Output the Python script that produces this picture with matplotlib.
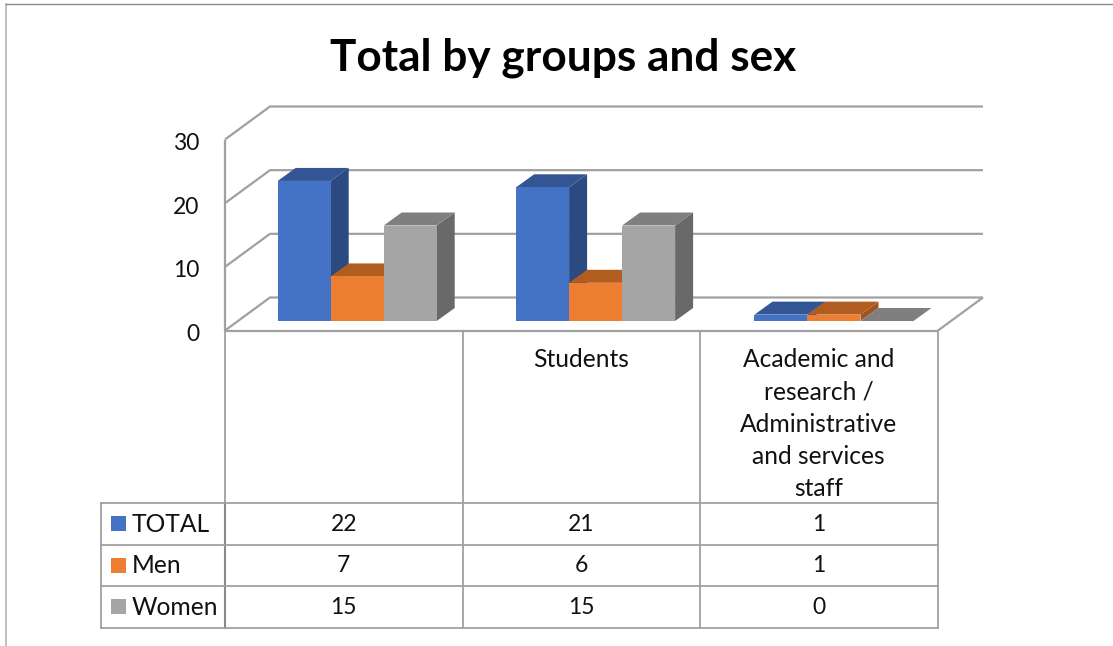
import matplotlib
matplotlib.use("Agg")
import matplotlib.pyplot as plt
from matplotlib.patches import Polygon, Rectangle
from matplotlib.transforms import ScaledTranslation

plt.rcParams['font.family'] = ['Lato', 'DejaVu Sans']

title = "Total by groups and sex"
categories = ["", "Students",
              "Academic and\nresearch /\nAdministrative\nand services\nstaff"]
series_names = ["TOTAL", "Men", "Women"]
total = [22, 21, 1]
men = [7, 6, 1]
women = [15, 15, 0]
y_ticks = [0, 10, 20, 30]

front_colors = ["#4472C4", "#ED7D31", "#A5A5A5"]
top_colors = ["#335593", "#B25D20", "#7F7F7F"]
side_colors = ["#2A4A80", "#A05420", "#696969"]
GRID = "#A0A0A0"
TABLE = "#A0A0A0"

W, H = 1113, 646
fig = plt.figure(figsize=(W / 100, H / 100), dpi=100, facecolor="white")

# overlay in pixel coordinates: frame, table, texts
bg = fig.add_axes([0, 0, 1, 1])
bg.set_xlim(0, W)
bg.set_ylim(H, 0)
bg.axis("off")

# plot axes: x in category units, y in value units
X0, X1, Y0, Y30 = 225, 938, 330.5, 139.5
ax = fig.add_axes([X0 / W, 1 - Y0 / H, (X1 - X0) / W, (Y0 - Y30) / H])
ax.set_xlim(0, 3)
ax.set_ylim(0, 30)
ax.patch.set_alpha(0)
for s in ax.spines.values():
    s.set_visible(False)
ax.set_xticks([])
ax.set_yticks(y_ticks)
ax.tick_params(axis="y", length=0, pad=18.5, labelsize=16.5, labelcolor="#111111")
shift = ScaledTranslation(0, -2 / 100, fig.dpi_scale_trans)
for lab in ax.get_yticklabels():
    lab.set_transform(lab.get_transform() + shift)

ux = (X1 - X0) / 3
uy = (Y0 - Y30) / 30
WALL_DX, WALL_DY = 45 / ux, 33 / uy
BAR_DX, BAR_DY = 18 / ux, 13 / uy
BAR_W = 53 / ux
BAR_OFF = 52.7 / ux
GROUP = 238.4 / ux
BASE = 9.5 / uy


def line(xs, ys, lw=1.6, color=GRID, z=1):
    ax.plot(xs, ys, color=color, lw=lw, clip_on=False, zorder=z,
            solid_capstyle="butt", solid_joinstyle="miter")


# wall and floor
for v in y_ticks:
    line([0, WALL_DX, 3 + WALL_DX], [v, v + WALL_DY, v + WALL_DY])
line([0, 0], [0, 30])
line([0, 3], [0, 0])
line([3, 3 + WALL_DX], [0, WALL_DY])

# bars
values = [total, men, women]
z = 2
for c in range(len(categories)):
    for s, vals in enumerate(values):
        v = vals[c]
        x = c * GROUP + BAR_OFF + s * BAR_W
        b = BASE
        t = BASE + v
        ax.add_patch(Polygon([(x + BAR_W, b), (x + BAR_W + BAR_DX, b + BAR_DY),
                              (x + BAR_W + BAR_DX, t + BAR_DY), (x + BAR_W, t)],
                             fc=side_colors[s], ec="none", clip_on=False, zorder=z))
        ax.add_patch(Polygon([(x, t), (x + BAR_W, t), (x + BAR_W + BAR_DX, t + BAR_DY),
                              (x + BAR_DX, t + BAR_DY)],
                             fc=top_colors[s], ec="none", clip_on=False, zorder=z + 1))
        ax.add_patch(Rectangle((x, b), BAR_W, v, fc=front_colors[s], ec="none",
                               clip_on=False, zorder=z + 2))
        z += 3

# outer frame of the picture
bg.plot([6, 6], [4, H], color="#B5B5B5", lw=1.2)
bg.plot([6, W], [4, 4], color="#8A8A8A", lw=1.0)

# title
bg.text(563, 58, title, ha="center", va="center", fontsize=31.8, fontweight="bold",
        color="black")

# data table
col_x = [225, 462.5, 700, 938]
row_y = [503, 544.5, 586, 627.5]
LEFT = 101
for x in col_x:
    bg.plot([x, x], [331, row_y[-1]], color=TABLE, lw=1.3)
bg.plot([col_x[0]] * 2, [row_y[0], row_y[-1]], color="#8A8A8A", lw=1.5)
bg.plot([LEFT, LEFT], [row_y[0], row_y[-1]], color=TABLE, lw=1.3)
for y in row_y:
    bg.plot([LEFT, col_x[-1]], [y, y], color=TABLE, lw=1.3)

for i, cat in enumerate(categories):
    bg.text((col_x[i] + col_x[i + 1]) / 2 - (0 if i == 0 else 0.5), 348, cat, ha="center",
            va="top", fontsize=17.7, color="#111111", linespacing=1.49)

for r, name in enumerate(series_names):
    yc = (row_y[r] + row_y[r + 1]) / 2
    bg.add_patch(Rectangle((111, yc - 7.5), 15, 15, fc=front_colors[r], ec="none"))
    bg.text(132, yc + 0.5, name, ha="left", va="center", fontsize=17.7, color="#111111")
    for c in range(len(categories)):
        bg.text((col_x[c] + col_x[c + 1]) / 2, yc + 0.5, str(values[r][c]),
                ha="center", va="center", fontsize=16.5, color="#111111")

fig.savefig("out.png", dpi=100, facecolor="white")
